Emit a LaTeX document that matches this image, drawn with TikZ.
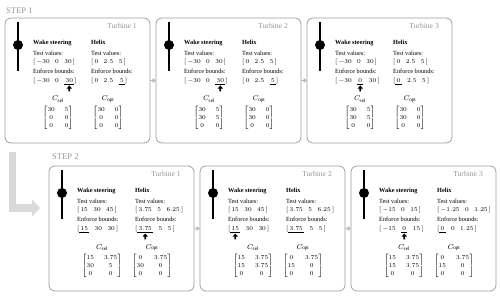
\documentclass[tikz,border=0pt]{standalone}
\usepackage{amsmath}
\usepackage{amssymb}
\usepackage{fontspec}
\setmainfont{Liberation Serif}
\usetikzlibrary{positioning, calc, arrows.meta}
\definecolor{framegray}{RGB}{160, 160, 160}
\definecolor{labelgray}{RGB}{150, 150, 150}
\definecolor{flowgray}{RGB}{217, 217, 217}
\definecolor{linkgray}{RGB}{185, 185, 185}

\newsavebox{\pickbox}
\newcommand{\entrysep}{\hspace{5.5pt}}
\newcommand{\upmark}{\tikz[baseline=0pt, x=1pt, y=1pt]\fill (-2.8,0) -- (0,3.2) -- (2.8,0) -- (0.9,0) -- (0.9,-2.6) -- (-0.9,-2.6) -- (-0.9,0) -- cycle;}
\newcommand{\uline}[1]{\sbox{\pickbox}{$\,#1\,$}\rlap{\rule[-2pt]{\wd\pickbox}{0.6pt}}\usebox{\pickbox}}
\newcommand{\ulpick}[1]{\sbox{\pickbox}{$\,#1\,$}\rlap{\rule[-2pt]{\wd\pickbox}{0.6pt}}\rlap{\makebox[\wd\pickbox]{\raisebox{-6.2pt}{\upmark}}}\usebox{\pickbox}}

\tikzset{
  tbox/.style={draw=framegray, line width=0.8pt, rounded corners=6pt, minimum width=145pt, minimum height=125pt, inner sep=0pt, outer sep=0pt, anchor=north west},
  txt/.style={inner sep=0pt, anchor=base west, font=\fontsize{6.3}{8.3}\selectfont},
  head/.style={txt, font=\fontsize{6.3}{8.3}\selectfont\bfseries},
  cname/.style={inner sep=0pt, anchor=base, font=\fontsize{7.4}{9}\selectfont},
  tname/.style={inner sep=0pt, anchor=base east, text=labelgray, font=\fontsize{7.6}{9}\selectfont},
  steplabel/.style={inner sep=0pt, anchor=base west, text=labelgray, font=\fontsize{8.6}{10}\selectfont},
  tower/.style={line width=2.6pt},
  link/.style={linkgray, line width=1.6pt, -{Triangle[length=3.5pt, width=5pt]}},
  flow/.style={flowgray, line width=7.5pt, -{Triangle[length=8pt, width=17pt]}}
}

% one turbine panel: name, placement, title, wake test, wake bounds, helix test, helix bounds, C_sel, C_opt
\newcommand{\turbinebox}[9]{%
  \node[tbox, #2] (#1) {};
  \node[tname] (#1-name) at ($(#1.north east)+(-13,11)$) {#3};
  \draw[tower] ($(#1.north west)+(13,4)$) -- ($(#1.north west)+(13,53)$);
  \fill ($(#1.north west)+(13,27)$) circle (5pt);
  % wake steering column
  \node[head] (#1-ws) at ($(#1.north west)+(28,27)$) {Wake steering};
  \node[txt] (#1-wt) at ($(#1-ws.base west)+(0,10.5)$) {Test values:};
  \node[txt] (#1-wv) at ($(#1-wt.base west)+(0,8.5)$) {#4};
  \node[txt] (#1-we) at ($(#1-wv.base west)+(0,9.5)$) {Enforce bounds:};
  \node[txt] (#1-wb) at ($(#1-we.base west)+(0,9)$) {#5};
  % helix column
  \node[head] (#1-hx) at ($(#1.north west)+(86,27)$) {Helix};
  \node[txt] (#1-ht) at ($(#1-hx.base west)+(0,10.5)$) {Test values:};
  \node[txt] (#1-hv) at ($(#1-ht.base west)+(0,8.5)$) {#6};
  \node[txt] (#1-he) at ($(#1-hv.base west)+(0,9.5)$) {Enforce bounds:};
  \node[txt] (#1-hb) at ($(#1-he.base west)+(0,9)$) {#7};
  % matrices
  \node[cname] (#1-cs) at ($(#1.north west)+(53,83)$) {$C_{\mathrm{sel}}$};
  \node[cname] (#1-co) at ($(#1.north west)+(103,83)$) {$C_{\mathrm{opt}}$};
  \node[txt, anchor=center] (#1-ms) at ($(#1.north west)+(53,100)$) {$\begin{bmatrix}#8\end{bmatrix}$};
  \node[txt, anchor=center] (#1-mo) at ($(#1.north west)+(103,100)$) {$\begin{bmatrix}#9\end{bmatrix}$};
}

\begin{document}
\begin{tikzpicture}[x=1pt, y=-1pt]
\useasboundingbox (0,0) rectangle (500,296);

% Step 1
\turbinebox{b11}{at={(5,18)}}{Turbine 1}
  {$[\,-30\entrysep 0\entrysep 30\,]$}
  {$[\,-30\entrysep 0\entrysep \ulpick{30}]$}
  {$[\,0\entrysep 2.5\entrysep 5\,]$}
  {$[\,0\entrysep 2.5\entrysep \uline{5}]$}
  {30 & 5\\ 0 & 0\\ 0 & 0}
  {30 & 0\\ 0 & 0\\ 0 & 0}
\turbinebox{b12}{right=6pt of b11}{Turbine 2}
  {$[\,-30\entrysep 0\entrysep 30\,]$}
  {$[\,-30\entrysep 0\entrysep \ulpick{30}]$}
  {$[\,0\entrysep 2.5\entrysep 5\,]$}
  {$[\,0\entrysep 2.5\entrysep \uline{5}]$}
  {30 & 5\\ 30 & 5\\ 0 & 0}
  {30 & 0\\ 30 & 0\\ 0 & 0}
\turbinebox{b13}{right=6pt of b12}{Turbine 3}
  {$[\,-30\entrysep 0\entrysep 30\,]$}
  {$[\,-30\entrysep \ulpick{0}\entrysep 30\,]$}
  {$[\,0\entrysep 2.5\entrysep 5\,]$}
  {$[\uline{0}\entrysep 2.5\entrysep 5\,]$}
  {30 & 5\\ 30 & 5\\ 0 & 0}
  {30 & 0\\ 30 & 0\\ 0 & 0}
\node[steplabel] (step1) at ($(b11.north west)+(1,-4.5)$) {STEP 1};
\draw[link] (b11) -- (b12);
\draw[link] (b12) -- (b13);

% Step 2
\turbinebox{b21}{at={(49,166)}}{Turbine 1}
  {$[\,15\entrysep 30\entrysep 45\,]$}
  {$[\uline{15}\entrysep 30\entrysep 30\,]$}
  {$[\,3.75\entrysep 5\entrysep 6.25\,]$}
  {$[\ulpick{3.75}\entrysep 5\entrysep 5\,]$}
  {15 & 3.75\\ 30 & 5\\ 0 & 0}
  {0 & 3.75\\ 30 & 0\\ 0 & 0}
\turbinebox{b22}{right=6pt of b21}{Turbine 2}
  {$[\,15\entrysep 30\entrysep 45\,]$}
  {$[\ulpick{15}\entrysep 30\entrysep 30\,]$}
  {$[\,3.75\entrysep 5\entrysep 6.25\,]$}
  {$[\uline{3.75}\entrysep 5\entrysep 5\,]$}
  {15 & 3.75\\ 15 & 3.75\\ 0 & 0}
  {0 & 3.75\\ 15 & 0\\ 0 & 0}
\turbinebox{b23}{right=6pt of b22}{Turbine 3}
  {$[\,-15\entrysep 0\entrysep 15\,]$}
  {$[\,-15\entrysep \ulpick{0}\entrysep 15\,]$}
  {$[\,-1.25\entrysep 0\entrysep 1.25\,]$}
  {$[\uline{0}\entrysep 0\entrysep 1.25\,]$}
  {15 & 3.75\\ 15 & 3.75\\ 0 & 0}
  {0 & 3.75\\ 15 & 0\\ 0 & 0}
\node[steplabel] (step2) at ($(b21.north west)+(3,-6.5)$) {STEP 2};
\draw[link] (b21) -- (b22);
\draw[link] (b22) -- (b23);

% Step 1 -> Step 2
\coordinate (lstart) at ($(b11.south west)+(7.5,9)$);
\coordinate (lend) at ($(b21.north west)+(-9,42)$);
\draw[flow] (lstart) |- (lend);
\end{tikzpicture}
\end{document}
